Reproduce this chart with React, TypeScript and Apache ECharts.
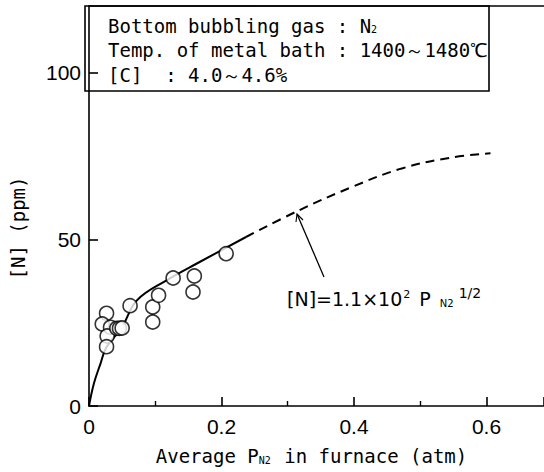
import React, { useEffect, useRef } from "react";
import * as echarts from "echarts";

// Measured nitrogen content vs average N2 partial pressure
const obsPressure = [0.0265, 0.02, 0.0325, 0.0274, 0.0265, 0.042, 0.046, 0.05, 0.062, 0.0962, 0.0962, 0.105, 0.127, 0.159, 0.157, 0.207];
const obsNitrogen = [27.8, 24.6, 23.6, 21.0, 17.8, 23.3, 23.3, 23.4, 30.1, 29.7, 25.2, 33.2, 38.4, 39.0, 34.2, 45.7];

// Fitted curve, solid over the measured range
const fitPressure = [0, 0.0075, 0.0175, 0.0265, 0.05, 0.0723, 0.117, 0.167, 0.237];
const fitNitrogen = [0, 6.8, 12.8, 17.7, 23.7, 31.7, 37.7, 43.2, 50.7];

// Extrapolated part of the curve, dashed
const extPressure = [0.237, 0.317, 0.397, 0.471, 0.546, 0.606];
const extNitrogen = [50.7, 58.7, 65.7, 71.2, 74.5, 75.8];

const xTicks = [0, 0.2, 0.4, 0.6];
const yTicks = [0, 50, 100];

const MONO = "'DejaVu Sans Mono', monospace";
const LABEL = "'Liberation Sans', sans-serif";
const EQ = "'DejaVu Sans', sans-serif";

export default function App() {
  const ref = useRef<HTMLDivElement>(null);

  useEffect(() => {
    if (!ref.current) return;
    const chart = echarts.init(ref.current, undefined, { renderer: "svg" });

    const pairs = (xs: number[], ys: number[]) => xs.map((x, i) => [x, ys[i]]);

    chart.setOption({
      animation: false,
      backgroundColor: "#ffffff",
      grid: { left: 85, top: 6, right: 0, bottom: 66 },
      xAxis: [
        {
          type: "value",
          min: 0,
          max: 0.6868,
          interval: 0.2,
          name: "Average P{sub|N2} in furnace (atm)",
          nameLocation: "middle",
          nameGap: 40,
          nameTextStyle: {
            fontFamily: MONO,
            fontSize: 19,
            color: "#000",
            padding: [0, 10, 0, 0],
            rich: {
              sub: { fontFamily: MONO, fontSize: 10, color: "#000", verticalAlign: "bottom", padding: [8, 2, 0, 0] },
            },
          },
          axisLine: { show: true, onZero: false, lineStyle: { color: "#000", width: 1.6 } },
          axisTick: { show: true, inside: true, length: 9, lineStyle: { color: "#000", width: 1.6 } },
          minorTick: { show: true, splitNumber: 2, length: 5, lineStyle: { color: "#000", width: 1.4 } },
          splitLine: { show: false },
          axisLabel: {
            margin: 10,
            showMaxLabel: false,
            fontFamily: LABEL,
            fontSize: 21,
            color: "#000",
            formatter: (v: number) => (xTicks.some((t) => Math.abs(t - v) < 1e-9) ? (v === 0 ? "0" : v.toFixed(1)) : ""),
          },
        },
        {
          type: "value",
          position: "top",
          min: 0,
          max: 0.6868,
          axisLine: { show: true, onZero: false, lineStyle: { color: "#000", width: 1.6 } },
          axisTick: { show: false },
          axisLabel: { show: false },
          splitLine: { show: false },
        },
      ],
      yAxis: {
        type: "value",
        min: 0,
        max: 120,
        interval: 50,
        name: "[N] (ppm)",
        nameLocation: "middle",
        nameRotate: 90,
        nameGap: 62,
        nameTextStyle: { fontFamily: MONO, fontSize: 19, color: "#000", padding: [0, 44, 0, 0] },
        axisLine: { show: true, lineStyle: { color: "#000", width: 1.6 } },
        axisTick: { show: true, inside: true, length: 9, lineStyle: { color: "#000", width: 1.6 } },
        splitLine: { show: false },
        axisLabel: {
          margin: 8,
          showMaxLabel: false,
          fontFamily: LABEL,
          fontSize: 21,
          color: "#000",
          formatter: (v: number) => (yTicks.includes(v) ? String(v) : ""),
        },
      },
      series: [
        {
          type: "line",
          data: pairs(fitPressure, fitNitrogen),
          smooth: 0.4,
          showSymbol: false,
          lineStyle: { color: "#000", width: 2 },
          z: 2,
        },
        {
          type: "line",
          data: pairs(extPressure, extNitrogen),
          smooth: 0.4,
          showSymbol: false,
          lineStyle: { color: "#000", width: 2, type: [9, 6] },
          z: 2,
        },
        {
          type: "scatter",
          data: pairs(obsPressure, obsNitrogen),
          symbol: "circle",
          symbolSize: 14,
          itemStyle: { color: "#fff", borderColor: "#000", borderWidth: 1.6 },
          z: 3,
        },
      ],
      graphic: [
        // condition box in the upper-left corner
        {
          type: "rect",
          shape: { x: 85, y: 6, width: 404, height: 85 },
          style: { fill: "none", stroke: "#000", lineWidth: 1.6 },
          z: 10,
        },
        {
          type: "text",
          x: 108,
          y: 16,
          z: 11,
          style: {
            text: "Bottom bubbling gas : N{sub|2}",
            font: `19px ${MONO}`,
            fill: "#000",
            rich: { sub: { fontFamily: MONO, fontSize: 10, fill: "#000", padding: [8, 0, 0, 0] } },
          },
        },
        {
          type: "text",
          x: 108,
          y: 40,
          z: 11,
          style: { text: "Temp. of metal bath : 1400～1480℃", font: `19px ${MONO}`, fill: "#000" },
        },
        {
          type: "text",
          x: 108,
          y: 65,
          z: 11,
          style: { text: "[C]  : 4.0～4.6%", font: `19px ${MONO}`, fill: "#000" },
        },
        // pointer from the equation to the curve
        {
          type: "line",
          shape: { x1: 297, y1: 214, x2: 324, y2: 277 },
          style: { stroke: "#000", lineWidth: 1.3 },
          z: 5,
        },
        {
          type: "polyline",
          shape: { points: [[296, 222], [297, 214], [303, 220]] },
          style: { stroke: "#000", lineWidth: 1.1, fill: null },
          z: 5,
        },
        {
          type: "text",
          x: 287,
          y: 286,
          z: 5,
          style: {
            text: "[N]=1.1×10{sup|2} P {sub|N2}{frac|1/2}",
            font: `19px ${EQ}`,
            fill: "#000",
            rich: {
              sup: { fontFamily: EQ, fontSize: 11, fill: "#000", padding: [0, 3, 10, 1] },
              sub: { fontFamily: EQ, fontSize: 10, fill: "#000", padding: [8, 5, 0, 3] },
              frac: { fontFamily: EQ, fontSize: 14, fill: "#000", padding: [0, 0, 12, 0] },
            },
          },
        },
      ],
    });

    return () => chart.dispose();
  }, []);

  return <div ref={ref} style={{ position: "absolute", left: 0, top: 0, width: 544, height: 472 }} />;
}
